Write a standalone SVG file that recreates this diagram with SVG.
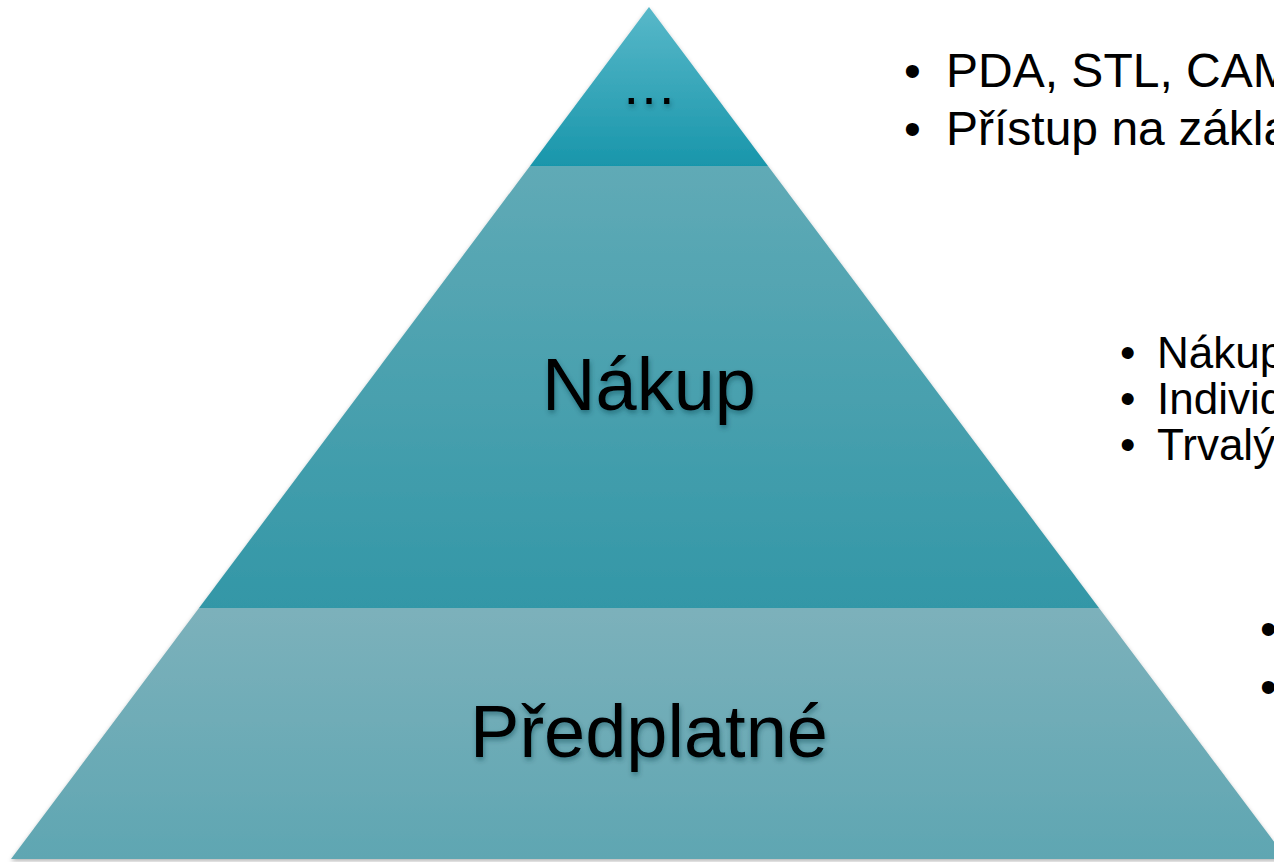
<svg xmlns="http://www.w3.org/2000/svg" width="1274" height="862" viewBox="0 0 1274 862">
<defs>
<linearGradient id="gTop" x1="0" y1="7" x2="0" y2="166" gradientUnits="userSpaceOnUse">
<stop offset="0" stop-color="#58b8c9"/><stop offset="1" stop-color="#1996ab"/>
</linearGradient>
<linearGradient id="gMid" x1="0" y1="166" x2="0" y2="608" gradientUnits="userSpaceOnUse">
<stop offset="0" stop-color="#60aab6"/><stop offset="1" stop-color="#3397a7"/>
</linearGradient>
<linearGradient id="gBot" x1="0" y1="608" x2="0" y2="859" gradientUnits="userSpaceOnUse">
<stop offset="0" stop-color="#7cb1bb"/><stop offset="1" stop-color="#5fa6b2"/>
</linearGradient>
<filter id="shadow" x="-5%" y="-5%" width="110%" height="110%">
<feDropShadow dx="0" dy="2" stdDeviation="2" flood-color="#000" flood-opacity="0.3"/>
</filter>
<filter id="tshadow" x="-10%" y="-20%" width="120%" height="150%">
<feDropShadow dx="1" dy="3" stdDeviation="2.5" flood-color="#0a3a44" flood-opacity="0.45"/>
</filter>
</defs>
<style>
.lbl{font-family:"Liberation Sans",Arial,sans-serif;fill:#000;text-anchor:middle}
.bul{font-family:"Liberation Sans",Arial,sans-serif;font-size:48px;fill:#000}
.bm{font-family:"Liberation Sans",Arial,sans-serif;font-size:44px;fill:#000}
</style>
<rect width="1274" height="862" fill="#fff"/>
<g id="pyramid" filter="url(#shadow)">
<g id="layer-top">
<polygon points="649,7 530,166 768,166" fill="url(#gTop)"/>
</g>
<g id="layer-middle">
<polygon points="530,166 768,166 1099,608 199,608" fill="url(#gMid)"/>
</g>
<g id="layer-bottom">
<polygon points="199,608 1099,608 1287,859 11,859" fill="url(#gBot)"/>
</g>
</g>
<g id="labels" filter="url(#tshadow)">
<text class="lbl" x="649" y="104" font-size="56">…</text>
<text class="lbl" x="649" y="410" font-size="74">Nákup</text>
<text class="lbl" x="649" y="757" font-size="74">Předplatné</text>
</g>
<g id="notes-top">
<text class="bul" x="904" y="87">•</text><text class="bul" x="946" y="87">PDA, STL, CAM</text>
<text class="bul" x="904" y="145">•</text><text class="bul" x="946" y="145">Přístup na zákla</text>
</g>
<g id="notes-middle">
<text class="bm" x="1120" y="368">•</text><text class="bm" x="1157" y="368">Nákup</text>
<text class="bm" x="1120" y="414">•</text><text class="bm" x="1157" y="414">Individ</text>
<text class="bm" x="1120" y="460">•</text><text class="bm" x="1157" y="460">Trvalý</text>
</g>
<g id="notes-bottom">
<text class="bul" x="1260" y="645">•</text>
<text class="bul" x="1260" y="703">•</text>
</g>
</svg>
